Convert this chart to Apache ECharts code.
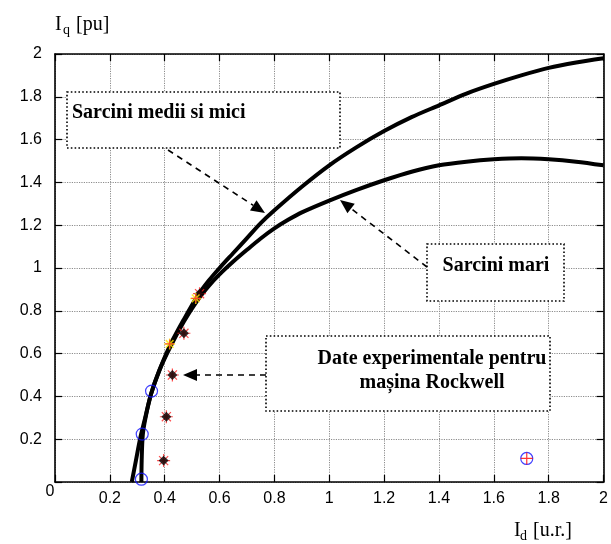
<!DOCTYPE html>
<html><head><meta charset="utf-8">
<script src="https://cdn.jsdelivr.net/npm/echarts@6/dist/echarts.min.js"></script>
<style>html,body{margin:0;padding:0;background:#fff}#c{width:611px;height:544px}</style>
</head><body><div id="c"></div>
<script>
// ---- data ----
const upperCurveX = [0.28, 0.295, 0.31, 0.325, 0.35, 0.38, 0.42, 0.47, 0.52, 0.56, 0.60, 0.65, 0.70, 0.75, 0.80, 0.90, 1.00, 1.10, 1.20, 1.30, 1.40, 1.50, 1.60, 1.70, 1.80, 1.90, 2.00];
const upperCurveY = [0.00, 0.10, 0.20, 0.28, 0.41, 0.52, 0.64, 0.76, 0.87, 0.94, 1.00, 1.07, 1.14, 1.21, 1.27, 1.38, 1.48, 1.565, 1.64, 1.705, 1.76, 1.815, 1.86, 1.90, 1.935, 1.96, 1.98];
const lowerCurveX = [0.315, 0.316, 0.32, 0.33, 0.35, 0.38, 0.42, 0.47, 0.52, 0.56, 0.60, 0.65, 0.70, 0.75, 0.80, 0.85, 0.90, 1.00, 1.10, 1.20, 1.30, 1.40, 1.50, 1.60, 1.70, 1.80, 1.90, 2.00];
const lowerCurveY = [0.00, 0.10, 0.22, 0.30, 0.41, 0.52, 0.63, 0.75, 0.85, 0.915, 0.97, 1.03, 1.085, 1.138, 1.185, 1.225, 1.26, 1.315, 1.365, 1.41, 1.45, 1.48, 1.497, 1.508, 1.513, 1.508, 1.497, 1.48];

const blackMarkX = [0.527, 0.470, 0.428, 0.406, 0.396];
const blackMarkY = [0.880, 0.695, 0.500, 0.305, 0.100];
const yellowMarkX = [0.513, 0.418];
const yellowMarkY = [0.858, 0.645];
const blueCircleX = [0.352, 0.318, 0.315, 1.72];
const blueCircleY = [0.425, 0.224, 0.013, 0.11];
const redPlusX = [1.72];
const redPlusY = [0.11];

const labelBox1 = 'Sarcini medii si mici';
const labelBox2 = 'Sarcini mari';
const labelBox3a = 'Date experimentale pentru';
const labelBox3b = 'mașina Rockwell';

// ---- helpers ----
const zip = (xs, ys) => xs.map((x, i) => [x, ys[i]]);
const SANS = '"Liberation Sans", Arial, sans-serif';
const SERIF = '"Liberation Serif", "Times New Roman", serif';

function arrow(x1, y1, x2, y2) {
  const dx = x2 - x1, dy = y2 - y1, L = Math.hypot(dx, dy);
  const ux = dx / L, uy = dy / L, hl = 14, hw = 6;
  const bx = x2 - ux * hl, by = y2 - uy * hl;
  const px = -uy * hw, py = ux * hw;
  return [
    { type: 'line', shape: { x1: x1, y1: y1, x2: bx, y2: by },
      style: { stroke: '#000', lineWidth: 1.6, lineDash: [6, 5] }, z: 50 },
    { type: 'polygon', shape: { points: [[x2, y2], [bx + px, by + py], [bx - px, by - py]] },
      style: { fill: '#000' }, z: 50 }
  ];
}
function box(x, y, w, h) {
  return { type: 'rect', shape: { x: x, y: y, width: w, height: h },
    style: { fill: '#fff', stroke: '#000', lineWidth: 1.6, lineDash: [1.6, 2.2] }, z: 40 };
}
function txt(t, x, y, font, align) {
  return { type: 'text', z: 60,
    style: { text: t, x: x, y: y, font: font, fill: '#000',
      align: align || 'center', textAlign: align || 'center',
      verticalAlign: 'middle', textVerticalAlign: 'middle' } };
}

const ASTER = 'path://M5,0L5,10M0,5L10,5M1.5,1.5L8.5,8.5M1.5,8.5L8.5,1.5';
const PLUS = 'path://M5,0L5,10M0,5L10,5';

const chart = echarts.init(document.getElementById('c'), null, { renderer: 'canvas' });

const gridLine = { show: true, lineStyle: { color: '#8c8c8c', type: [1.2, 1.2], width: 1 } };
const tickFmt = v => (Math.abs(v) < 1e-9 ? '' : String(+v.toFixed(1)));

const option = {
  animation: false,
  backgroundColor: '#fff',
  grid: { left: 55, right: 6, top: 54, bottom: 62 },
  xAxis: [
    { type: 'value', min: 0, max: 2, interval: 0.2, position: 'bottom',
      axisLine: { show: true, onZero: false, lineStyle: { color: '#000', width: 1.6 } },
      axisTick: { show: true, inside: true, length: 7, lineStyle: { color: '#000', width: 1.2 } },
      axisLabel: { formatter: tickFmt, color: '#000', fontSize: 16, fontFamily: SANS, margin: 9 },
      splitLine: gridLine },
    { type: 'value', min: 0, max: 2, interval: 0.2, position: 'top',
      axisLine: { show: true, onZero: false, lineStyle: { color: '#000', width: 1.6 } },
      axisTick: { show: true, inside: true, length: 7, lineStyle: { color: '#000', width: 1.2 } },
      axisLabel: { show: false }, splitLine: { show: false } }
  ],
  yAxis: [
    { type: 'value', min: 0, max: 2, interval: 0.2, position: 'left',
      axisLine: { show: true, onZero: false, lineStyle: { color: '#000', width: 1.6 } },
      axisTick: { show: true, inside: true, length: 7, lineStyle: { color: '#000', width: 1.2 } },
      axisLabel: { formatter: tickFmt, color: '#000', fontSize: 16, fontFamily: SANS, margin: 13 },
      splitLine: gridLine },
    { type: 'value', min: 0, max: 2, interval: 0.2, position: 'right',
      axisLine: { show: true, onZero: false, lineStyle: { color: '#000', width: 1.6 } },
      axisTick: { show: true, inside: true, length: 7, lineStyle: { color: '#000', width: 1.2 } },
      axisLabel: { show: false }, splitLine: { show: false } }
  ],
  series: [
    { name: labelBox1, type: 'line', data: zip(upperCurveX, upperCurveY), smooth: 0.3,
      symbol: 'none', lineStyle: { color: '#000', width: 4 }, clip: false, z: 3 },
    { name: labelBox2, type: 'line', data: zip(lowerCurveX, lowerCurveY), smooth: 0.3,
      symbol: 'none', lineStyle: { color: '#000', width: 4 }, clip: false, z: 3 },
    { type: 'scatter', data: zip(blackMarkX, blackMarkY), symbol: ASTER, symbolSize: 13,
      itemStyle: { color: 'rgba(0,0,0,0)', borderColor: '#ff2020', borderWidth: 1.2 }, clip: false, z: 4 },
    { type: 'scatter', data: zip(blackMarkX, blackMarkY), symbol: 'rect', symbolSize: 7, symbolRotate: 45,
      itemStyle: { color: '#000' }, clip: false, z: 5 },
    { type: 'scatter', data: zip(yellowMarkX, yellowMarkY), symbol: ASTER, symbolSize: 11,
      itemStyle: { color: 'rgba(0,0,0,0)', borderColor: '#ffee00', borderWidth: 1.5 }, clip: false, z: 5 },
    { type: 'scatter', data: zip(yellowMarkX, yellowMarkY), symbol: PLUS, symbolSize: 9,
      itemStyle: { color: 'rgba(0,0,0,0)', borderColor: '#ff3030', borderWidth: 1.2 }, clip: false, z: 6 },
    { type: 'scatter', data: zip(blueCircleX, blueCircleY), symbol: 'circle', symbolSize: 12,
      itemStyle: { color: 'rgba(0,0,0,0)', borderColor: '#1010ff', borderWidth: 1.2 }, clip: false, z: 6 },
    { type: 'scatter', data: zip(redPlusX, redPlusY), symbol: PLUS, symbolSize: 12,
      itemStyle: { color: 'rgba(0,0,0,0)', borderColor: '#ff0000', borderWidth: 1.2 }, clip: false, z: 7 }
  ],
  graphic: [
    // axis names
    txt('I', 55, 25, '20px ' + SERIF, 'left'),
    txt('q', 63, 30, '14px ' + SERIF, 'left'),
    txt('[pu]', 76, 25, '20px ' + SERIF, 'left'),
    txt('I', 514, 531, '20px ' + SERIF, 'left'),
    txt('d', 520, 536, '14px ' + SERIF, 'left'),
    txt('[u.r.]', 533, 531, '20px ' + SERIF, 'left'),
    txt('0', 50, 492, '16px ' + SANS, 'center'),
    // box 1
    box(67, 92, 273, 56),
    txt(labelBox1, 72, 113, 'bold 20px ' + SERIF, 'left'),
    ...arrow(168, 150, 265, 213),
    // box 2
    box(427, 244, 137, 57),
    txt(labelBox2, 496, 266, 'bold 20px ' + SERIF, 'center'),
    ...arrow(427, 267, 340, 200),
    // box 3
    box(266, 336, 284, 75),
    txt(labelBox3a, 432, 359, 'bold 20px ' + SERIF, 'center'),
    txt(labelBox3b, 432, 383, 'bold 20px ' + SERIF, 'center'),
    ...arrow(266, 375, 183, 375)
  ]
};
chart.setOption(option);
</script>
</body></html>
